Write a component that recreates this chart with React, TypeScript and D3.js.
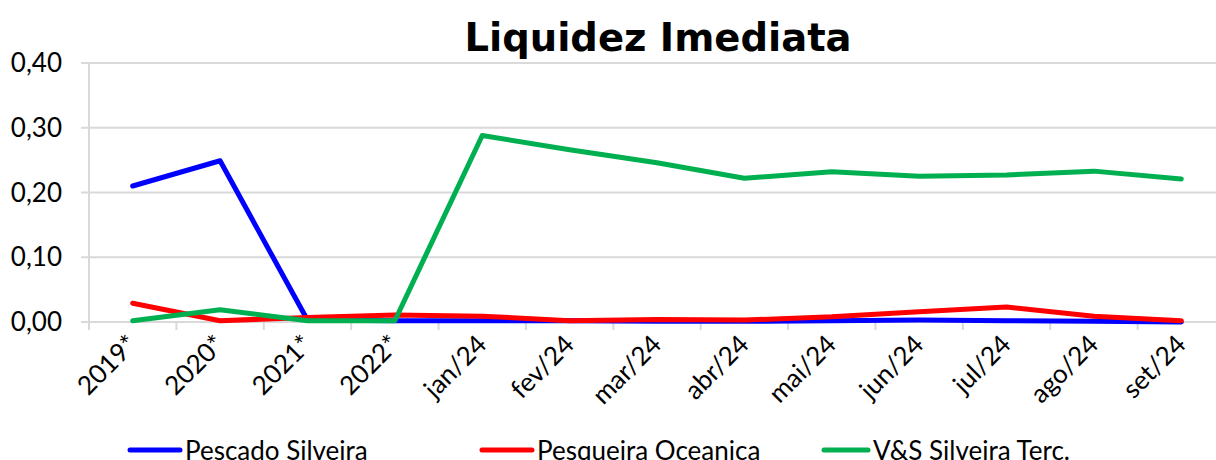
import { useEffect, useRef } from "react";
import * as d3 from "d3";

const categories = [
  "2019*", "2020*", "2021*", "2022*", "jan/24", "fev/24", "mar/24",
  "abr/24", "mai/24", "jun/24", "jul/24", "ago/24", "set/24",
];

const pescado = [0.21, 0.249, 0.003, 0.002, 0.002, 0.002, 0.001, 0.001, 0.002, 0.003, 0.002, 0.001, 0.0];
const pesqueira = [0.029, 0.002, 0.007, 0.011, 0.009, 0.002, 0.004, 0.003, 0.008, 0.016, 0.023, 0.009, 0.002];
const vsSilveira = [0.002, 0.019, 0.002, 0.002, 0.288, 0.266, 0.246, 0.222, 0.232, 0.225, 0.227, 0.233, 0.221];

const seriesNames = ["Pescado Silveira", "Pesqueira Oceanica", "V&S Silveira Terc."];
const seriesColors = ["#0000ff", "#ff0000", "#00b050"];
const yTicks = [0, 0.1, 0.2, 0.3, 0.4];

export default function App() {
  const svgRef = useRef<SVGSVGElement | null>(null);

  useEffect(() => {
    if (!svgRef.current) return;
    const W = 1216;
    const H = 460;
    const margin = { top: 63, left: 89 };
    const plotW = 1136;
    const plotH = 259;

    const svg = d3.select(svgRef.current);
    svg.selectAll("*").remove();
    svg.attr("width", W).attr("height", H);

    const font = "Lato, 'Open Sans', sans-serif";

    svg
      .append("text")
      .attr("x", 658)
      .attr("y", 51)
      .attr("text-anchor", "middle")
      .attr("font-family", "Tahoma, 'DejaVu Sans', sans-serif")
      .attr("font-weight", "bold")
      .attr("font-size", 38.5)
      .text("Liquidez Imediata");

    const g = svg.append("g").attr("transform", `translate(${margin.left},${margin.top})`);

    const x = d3.scaleBand().domain(categories).range([0, plotW]);
    const y = d3.scaleLinear().domain([0, 0.4]).range([plotH, 0]);

    // gridlines
    g.append("g")
      .selectAll("line")
      .data(yTicks)
      .enter()
      .append("line")
      .attr("x1", -8)
      .attr("x2", plotW)
      .attr("y1", (d) => y(d))
      .attr("y2", (d) => y(d))
      .attr("stroke", "#d9d9d9")
      .attr("stroke-width", 2);

    // y axis line
    g.append("line")
      .attr("x1", 0)
      .attr("x2", 0)
      .attr("y1", 0)
      .attr("y2", plotH + 8)
      .attr("stroke", "#d9d9d9")
      .attr("stroke-width", 2);

    // x tick marks between categories
    g.append("g")
      .selectAll("line")
      .data(categories.slice(1))
      .enter()
      .append("line")
      .attr("x1", (d) => x(d) ?? 0)
      .attr("x2", (d) => x(d) ?? 0)
      .attr("y1", plotH)
      .attr("y2", plotH + 8)
      .attr("stroke", "#d9d9d9")
      .attr("stroke-width", 2);

    // y labels
    g.append("g")
      .selectAll("text")
      .data(yTicks)
      .enter()
      .append("text")
      .attr("x", -27)
      .attr("y", (d) => y(d))
      .attr("dy", "0.35em")
      .attr("text-anchor", "end")
      .attr("font-family", font)
      .attr("font-size", 26)
      .text((d) => d3.format(".2f")(d).replace(".", ","));

    // x labels
    g.append("g")
      .selectAll("text")
      .data(categories)
      .enter()
      .append("text")
      .attr("text-anchor", "end")
      .attr("font-family", font)
      .attr("font-size", 26)
      .attr(
        "transform",
        (d) => `translate(${(x(d) ?? 0) + x.bandwidth() / 2 + 6},${plotH + 24}) rotate(-45)`
      )
      .text((d) => d);

    const line = d3
      .line<number>()
      .x((_, i) => (x(categories[i]) ?? 0) + x.bandwidth() / 2)
      .y((d) => y(d));

    [pescado, pesqueira, vsSilveira].forEach((vals, i) => {
      g.append("path")
        .datum(vals)
        .attr("fill", "none")
        .attr("stroke", seriesColors[i])
        .attr("stroke-width", 5)
        .attr("stroke-linejoin", "round")
        .attr("stroke-linecap", "round")
        .attr("d", line);
    });

    // legend
    const legendX = [130, 482, 824];
    const legendLen = [50, 50, 44];
    const legend = svg.append("g").attr("transform", "translate(0,450)");
    seriesNames.forEach((name, i) => {
      legend
        .append("line")
        .attr("x1", legendX[i])
        .attr("x2", legendX[i] + legendLen[i])
        .attr("y1", 0)
        .attr("y2", 0)
        .attr("stroke", seriesColors[i])
        .attr("stroke-width", 5)
        .attr("stroke-linecap", "round");
      legend
        .append("text")
        .attr("x", legendX[i] + legendLen[i] + 5)
        .attr("y", 0)
        .attr("dy", "0.4em")
        .attr("font-family", font)
        .attr("font-size", 26)
        .text(name);
    });
  }, []);

  return <svg ref={svgRef} style={{ position: "absolute", left: 0, top: 0 }}></svg>;
}
